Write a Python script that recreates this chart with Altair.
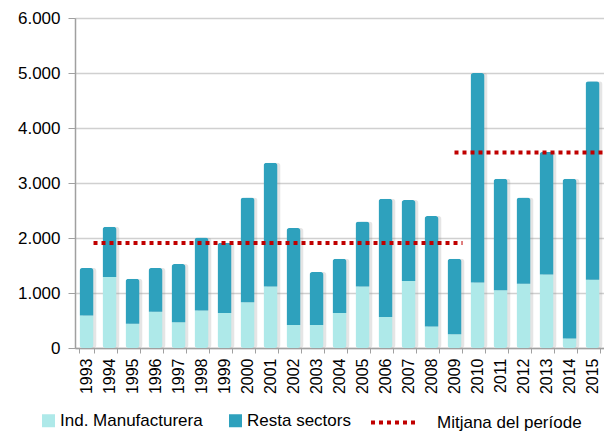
import altair as alt
import pandas as pd

years = [str(y) for y in range(1993, 2016)]
manufacturera = [593, 1290, 442, 660, 466, 684, 636, 830, 1120, 418, 418, 636,
                 1120, 564, 1218, 393, 248, 1193, 1048, 1169, 1338, 175, 1242]
resta = [862, 915, 818, 795, 1061, 1327, 1279, 1908, 2249, 1764, 964, 988,
         1182, 2151, 1472, 2007, 1376, 3807, 2030, 1569, 2226, 2903, 3606]

mean1_start, mean1_end, mean1_value = "1993", "2009", 1909
mean2_start, mean2_end, mean2_value = "2009", "2015", 3556

series_names = ["Ind. Manufacturera", "Resta sectors"]
line_name = "Mitjana del període"

rows = []
for i, y in enumerate(years):
    rows.append({"year": y, "serie": series_names[0], "value": manufacturera[i], "ord": 0})
    rows.append({"year": y, "serie": series_names[1], "value": resta[i], "ord": 1})
bars_df = pd.DataFrame(rows)
tot_df = pd.DataFrame({"year": years,
                       "total": [a + b for a, b in zip(manufacturera, resta)]})
mean1_df = pd.DataFrame({"start": [mean1_start], "end": [mean1_end],
                         "mean": [mean1_value], "serie": [line_name]})
mean2_df = pd.DataFrame({"start": [mean2_start], "end": [mean2_end],
                         "mean": [mean2_value], "serie": [line_name]})

FONT = "Liberation Sans"

xscale = alt.Scale(domain=years, paddingInner=0.39, paddingOuter=0.195)
yscale = alt.Scale(domain=[0, 6000])

x_axis = alt.Axis(title=None, labelAngle=270, labelFontSize=16, labelFont=FONT,
                  labelColor="#000", tickBand="extent", tickSize=5,
                  tickColor="#A0A0A0", domainColor="#A0A0A0", domainWidth=1.5,
                  labelPadding=5, grid=False, labelBaseline="middle")
y_axis = alt.Axis(title=None, values=[0, 1000, 2000, 3000, 4000, 5000, 6000],
                  labelExpr="replace(format(datum.value, ','), ',', '.')",
                  labelFontSize=17, labelFont=FONT, labelColor="#000",
                  tickSize=7, tickColor="#A0A0A0", domainColor="#A0A0A0",
                  domainWidth=1.5, labelPadding=8, gridColor="#D0D0D0",
                  gridWidth=1.5)

shadow = alt.Chart(tot_df).mark_bar(xOffset=3, cornerRadius=3, color="#888888",
                                    opacity=0.22).encode(
    x=alt.X("year:O", scale=xscale, axis=x_axis),
    y=alt.Y("total:Q", scale=yscale, axis=y_axis),
)

bars = alt.Chart(bars_df).mark_bar(cornerRadius=3).encode(
    x=alt.X("year:O", scale=xscale, axis=x_axis),
    y=alt.Y("value:Q", stack="zero", scale=yscale, axis=y_axis),
    color=alt.Color("serie:N",
                    scale=alt.Scale(domain=series_names, range=["#AEE9E9", "#2EA1BD"]),
                    legend=alt.Legend(title=None, orient="none", direction="horizontal",
                                      legendX=-35, legendY=394, symbolType="square",
                                      symbolSize=169, symbolStrokeWidth=0,
                                      labelFontSize=17, labelFont=FONT,
                                      labelColor="#000", labelOffset=3,
                                      columnPadding=24)),
    order=alt.Order("ord:Q"),
)

stroke_enc = alt.Stroke(
    "serie:N",
    scale=alt.Scale(domain=[line_name], range=["#C00000"]),
    legend=alt.Legend(title=None, orient="none", legendX=294, legendY=379,
                      symbolType="stroke", symbolSize=2209, symbolDash=[4, 4],
                      symbolStrokeWidth=4, labelFontSize=17, labelFont=FONT,
                      labelColor="#000", labelOffset=17),
)

mean1 = alt.Chart(mean1_df).mark_rule(strokeWidth=4, strokeDash=[4, 4],
                                      x2Offset=1).encode(
    x=alt.X("start:O", scale=xscale, axis=x_axis, bandPosition=1.0),
    x2=alt.X2("end:O", bandPosition=1.0),
    y=alt.Y("mean:Q", scale=yscale, axis=y_axis),
    stroke=stroke_enc,
)
mean2 = alt.Chart(mean2_df).mark_rule(strokeWidth=4, strokeDash=[4, 4],
                                      x2Offset=4).encode(
    x=alt.X("start:O", scale=xscale, axis=x_axis, bandPosition=0.5),
    x2=alt.X2("end:O", bandPosition=1.0),
    y=alt.Y("mean:Q", scale=yscale, axis=y_axis),
    stroke=stroke_enc,
)

chart = alt.layer(shadow, bars, mean1, mean2).properties(
    width=529, height=330, autosize="none",
    padding={"left": 67, "top": 10, "right": 0, "bottom": 84},
).configure_view(stroke=None).configure(background="white")

chart.save("out.html", embed_options={"renderer": "svg", "actions": False})
